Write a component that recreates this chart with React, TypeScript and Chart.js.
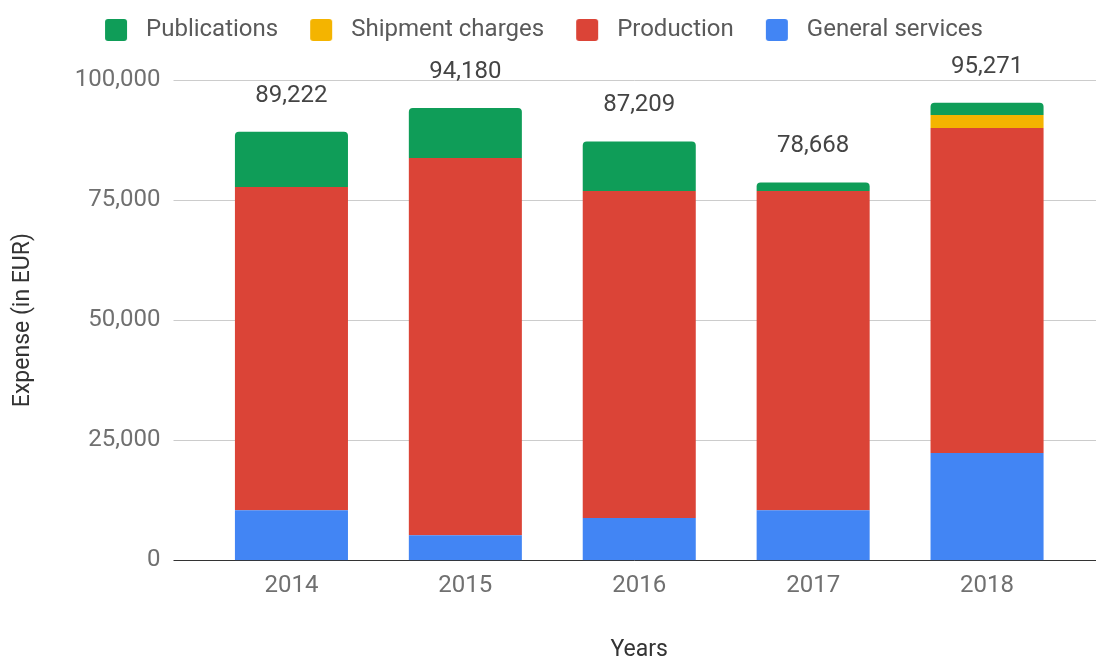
import React, { useEffect, useRef } from "react";
import { Chart, registerables } from "chart.js";

Chart.register(...registerables);

const years = ["2014", "2015", "2016", "2017", "2018"];
const generalServices = [10400, 5200, 8800, 10400, 22300];
const production = [67300, 78550, 68100, 66500, 67700];
const shipmentCharges = [0, 0, 0, 0, 2700];
const publications = [11522, 10430, 10309, 1768, 2571];
const totals = [89222, 94180, 87209, 78668, 95271];
const yTicks = [0, 25000, 50000, 75000, 100000];

const FONT = "Roboto, 'Noto Sans', sans-serif";

function legendSwatch(color: string) {
  const c = document.createElement("canvas");
  c.width = 43;
  c.height = 22;
  const g = c.getContext("2d")!;
  g.fillStyle = color;
  g.beginPath();
  (g as any).roundRect(14, 0, 22, 22, 3);
  g.fill();
  return c;
}

const totalsPlugin = {
  id: "totalsLabels",
  afterDatasetsDraw(chart: any) {
    const ctx = chart.ctx;
    const meta = chart.getDatasetMeta(chart.data.datasets.length - 1);
    const y = chart.scales.y;
    ctx.save();
    ctx.font = `24px ${FONT}`;
    ctx.fillStyle = "#444444";
    ctx.textAlign = "center";
    ctx.textBaseline = "middle";
    totals.forEach((t, i) => {
      const x = meta.data[i].x;
      const top = y.getPixelForValue(t);
      ctx.fillText(t.toLocaleString("en-US"), x, top - 36);
    });
    ctx.restore();
  },
};

const gridPlugin = {
  id: "extGrid",
  beforeDatasetsDraw(chart: any) {
    const ctx = chart.ctx;
    const y = chart.scales.y;
    const left = chart.chartArea.left - 31;
    const right = chart.width;
    ctx.save();
    yTicks.forEach((v) => {
      const py = Math.round(y.getPixelForValue(v)) + 0.5;
      ctx.strokeStyle = v === 0 ? "#333333" : "#cccccc";
      ctx.lineWidth = 1;
      ctx.beginPath();
      ctx.moveTo(left, py);
      ctx.lineTo(right, py);
      ctx.stroke();
    });
    ctx.restore();
  },
};

export default function App() {
  const ref = useRef<HTMLCanvasElement>(null);
  useEffect(() => {
    document.body.style.margin = "0";
    const barOpts = { categoryPercentage: 1, barPercentage: 0.65, borderWidth: 0 };
    const chart = new Chart(ref.current!, {
      type: "bar",
      data: {
        labels: years,
        datasets: [
          { label: "General services", data: generalServices, backgroundColor: "#4285f4", ...barOpts },
          { label: "Production", data: production, backgroundColor: "#db4437", ...barOpts },
          { label: "Shipment charges", data: shipmentCharges, backgroundColor: "#f4b400", ...barOpts },
          {
            label: "Publications",
            data: publications,
            backgroundColor: "#0f9d58",
            borderRadius: { topLeft: 4, topRight: 4, bottomLeft: 0, bottomRight: 0 },
            borderSkipped: false,
            ...barOpts,
          },
        ],
      },
      options: {
        animation: false,
        responsive: false,
        layout: { padding: { left: 0, right: 22, top: 0, bottom: 0 } },
        plugins: {
          legend: {
            reverse: true,
            weight: 3000,
            labels: {
              font: { family: FONT, size: 24 },
              color: "#5a5a5a",
              boxWidth: 21,
              boxHeight: 21,
              padding: 18,
              usePointStyle: true,
              pointStyleWidth: 43,
              generateLabels: (ch: any) => {
                const items = Chart.defaults.plugins.legend.labels.generateLabels(ch);
                items.forEach((it: any) => {
                  const ds = ch.data.datasets[it.datasetIndex];
                  it.pointStyle = legendSwatch(ds.backgroundColor as string);
                });
                return items;
              },
            },
          },
          title: {
            display: true,
            text: "",
            weight: 500,
            font: { size: 20 },
            padding: { top: 0, bottom: 4 },
          },
          tooltip: { enabled: false },
        },
        scales: {
          x: {
            stacked: true,
            grid: { display: false },
            border: { display: false },
            ticks: { font: { family: FONT, size: 24 }, color: "#707070", padding: 3 },
            title: {
              display: true,
              text: "Years",
              font: { family: FONT, size: 23, lineHeight: 1 },
              color: "#333333",
              padding: { top: 36, bottom: 0 },
            },
          },
          y: {
            stacked: true,
            min: 0,
            max: 100000,
            afterBuildTicks: (s: any) => {
              s.ticks = yTicks.map((v) => ({ value: v }));
            },
            afterFit: (s: any) => {
              s.width = 204.5;
            },
            grid: { display: false, drawTicks: false },
            border: { display: false },
            ticks: {
              font: { family: FONT, size: 24 },
              color: "#707070",
              padding: 44,
              callback: (v: any) => Number(v).toLocaleString("en-US"),
            },
            title: {
              display: true,
              text: "Expense (in EUR)",
              font: { family: FONT, size: 23 },
              color: "#333333",
              padding: { top: 9, bottom: 0 },
            },
          },
        },
      },
      plugins: [gridPlugin, totalsPlugin],
    });
    return () => chart.destroy();
  }, []);
  return <canvas ref={ref} width={1096} height={662} style={{ display: "block" }} />;
}
